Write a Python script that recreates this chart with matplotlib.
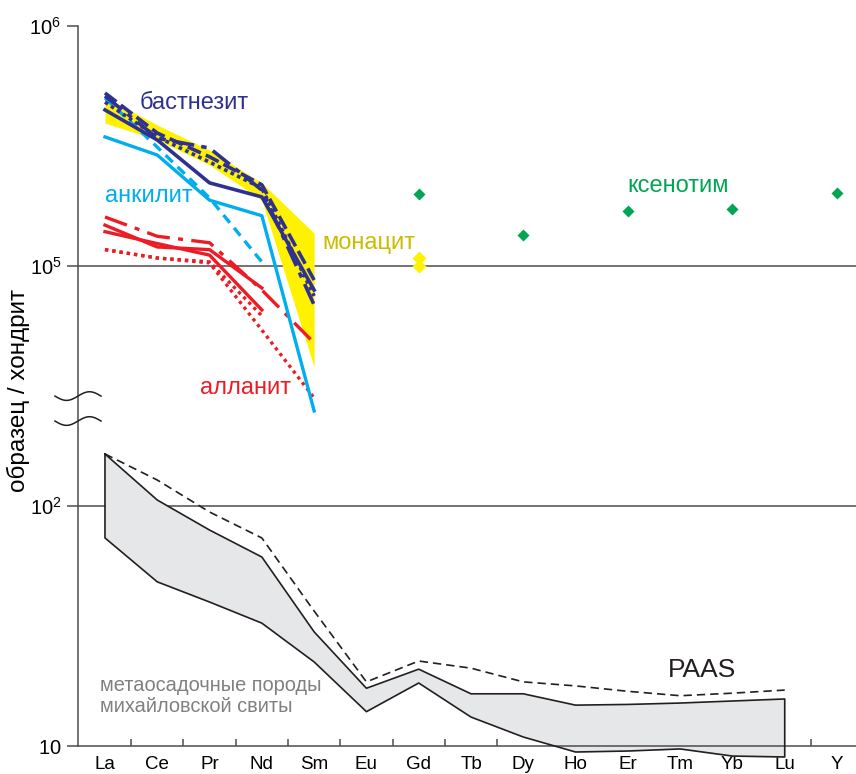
import numpy as np
import matplotlib
matplotlib.use('Agg')
import matplotlib.pyplot as plt

plt.rcParams['font.family'] = ['Liberation Sans', 'DejaVu Sans']
plt.rcParams['mathtext.fontset'] = 'custom'
plt.rcParams['mathtext.rm'] = 'Liberation Sans'

# ---------------- data (chondrite-normalised) ----------------
elements = ['La', 'Ce', 'Pr', 'Nd', 'Sm', 'Eu', 'Gd', 'Tb', 'Dy', 'Ho', 'Er', 'Tm', 'Yb', 'Lu', 'Y']

# bastnaesite, La..Sm
bast_solid   = [4.47e5, 3.35e5, 2.22e5, 1.94e5, 7.94e4]
bast_dashdot = [5.11e5, 3.41e5, 3.10e5, 2.07e5, 6.88e4]
bast_dotted  = [4.82e5, 3.45e5, 2.71e5, 2.11e5, 7.50e4]
bast_dashed  = [5.26e5, 3.58e5, 2.85e5, 2.18e5, 8.74e4]

# ancylite
ank_solid  = [3.45e5, 2.90e5, 1.88e5, 1.62e5, 2.49e4]
ank_dashed = [5.01e5, 3.13e5, 1.92e5, 1.04e5]

# allanite
all_dashdot = [1.60e5, 1.33e5, 1.25e5, 7.94e4, 4.78e4]
all_solid1  = [1.48e5, 1.20e5, 1.17e5, 8.10e4]
all_solid2  = [1.39e5, 1.24e5, 1.11e5, 6.56e4]
all_dotted1 = [1.17e5, 1.08e5, 1.03e5, 5.41e4, 2.82e4]
all_dotted2 = [1.17e5, 1.08e5, 1.04e5, 6.20e4]

# monazite field (upper / lower envelope) and Gd points
mon_upper = [5.06e5, 3.87e5, 3.04e5, 2.22e5, 1.37e5]
mon_lower = [3.94e5, 3.35e5, 2.64e5, 1.88e5, 3.79e4]
mon_gd = [1.08e5, 1.00e5]

# xenotime
xen_el  = ['Gd', 'Dy', 'Er', 'Yb', 'Y']
xen_val = [2.00e5, 1.35e5, 1.69e5, 1.73e5, 2.01e5]

# PAAS and metasediment field, La..Lu
paas      = [164.7, 128.3, 94.4, 73.6, 36.5, 18.5, 22.6, 21.1, 18.5, 17.8, 16.9, 16.2, 16.6, 17.1]
sed_upper = [164.7, 105.9, 79.4, 61.3, 29.9, 17.4, 20.9, 16.5, 16.5, 14.8, 14.9, 15.1, 15.4, 15.7]
sed_lower = [73.6, 48.3, 39.8, 32.5, 22.4, 13.9, 18.3, 13.2, 10.9, 9.44, 9.53, 9.72, 9.08, 9.0]


# broken log axis: 10..10^2 drawn as is, 10^5..10^6 shifted down by 3 decades
def lo(v):
    return np.log10(np.asarray(v, dtype=float))


def hi(v):
    return np.log10(np.asarray(v, dtype=float)) - 2


x = np.arange(len(elements))
xi = {e: i for i, e in enumerate(elements)}

NAVY = '#2e3192'
CYAN = '#00aeef'
RED = '#ed1c24'
YEL = '#fff200'
GREEN = '#00a651'

fig = plt.figure(figsize=(8.56, 7.74), dpi=100)
ax = fig.add_axes([78 / 856, 14 / 774, 778 / 856, 734 / 774])
ax.set_xlim(-0.516, 14.363)
ax.set_ylim(1 - 14 / 240, 4)

# reference lines
for yy in (2, 3):
    ax.axhline(yy, color='#4d4d4d', lw=1.1, zorder=1)

# metasediment field + PAAS
n = len(paas)
ax.fill_between(x[:n], lo(sed_lower), lo(sed_upper), color='#e6e7e8', lw=0, zorder=2)
ax.plot(np.r_[x[:n], x[:n][::-1], x[0]],
        np.r_[lo(sed_upper), lo(sed_lower)[::-1], lo(sed_upper)[0]],
        color='#231f20', lw=1.2, zorder=3)
ax.plot(x[:n], lo(paas), color='#231f20', lw=1.2, ls=(0, (5, 3)), zorder=3)

# monazite field
m = len(mon_upper)
ax.fill_between(x[:m], hi(mon_lower), hi(mon_upper), color=YEL, lw=0, zorder=2)
ax.plot([xi['Gd']] * 2, hi(mon_gd), 'D', color=YEL, ms=7, mec='none', zorder=4)

# allanite
ax.plot(x[:5], hi(all_dashdot), color=RED, lw=2.4, ls=(0, (7, 2.5, 1.5, 2.5)), zorder=4)
ax.plot(x[:4], hi(all_solid1), color=RED, lw=2.4, zorder=4)
ax.plot(x[:4], hi(all_solid2), color=RED, lw=2.4, zorder=4)
ax.plot(x[:5], hi(all_dotted1), color=RED, lw=2.4, ls=(0, (1, 1.2)), zorder=4)
ax.plot(x[:4], hi(all_dotted2), color=RED, lw=2.4, ls=(0, (1, 1.2)), zorder=4)

# ancylite
ax.plot(x[:5], hi(ank_solid), color=CYAN, lw=2.4, zorder=5)
ax.plot(x[:4], hi(ank_dashed), color=CYAN, lw=2.4, ls=(0, (3, 2)), zorder=5)

# bastnaesite
ax.plot(x[:5], hi(bast_solid), color=NAVY, lw=2.6, zorder=6)
ax.plot(x[:5], hi(bast_dashdot), color=NAVY, lw=2.6, ls=(0, (6, 2, 1.5, 2)), zorder=6)
ax.plot(x[:5], hi(bast_dotted), color=NAVY, lw=2.6, ls=(0, (1, 1)), zorder=6)
ax.plot(x[:5], hi(bast_dashed), color=NAVY, lw=2.6, ls=(0, (4, 1.5)), zorder=6)

# xenotime
ax.plot([xi[e] for e in xen_el], hi(xen_val), 'D', color=GREEN, ms=6.5, mec='none', zorder=6)

# labels
ax.text(0.67, 3.679, 'бастнезит', color=NAVY, fontsize=17, va='center')
ax.text(0.0, 3.29, 'анкилит', color=CYAN, fontsize=17, va='center')
ax.text(4.15, 3.096, 'монацит', color='#cdbb00', fontsize=17, va='center')
ax.text(1.82, 2.49, 'алланит', color=RED, fontsize=17, va='center')
ax.text(10.0, 3.333, 'ксенотим', color=GREEN, fontsize=17, va='center')
ax.text(10.77, 1.317, 'PAAS', color='#231f20', fontsize=19, va='center')
ax.text(-0.1, 1.208, 'метаосадочные породы\nмихайловской свиты', color='#808080',
        fontsize=14.4, va='center', linespacing=1.15)

# axes styling
for s in ('top', 'right'):
    ax.spines[s].set_visible(False)
ax.spines['bottom'].set_position(('data', 1))
ax.spines['left'].set_bounds(1, 4)
for s in ('left', 'bottom'):
    ax.spines[s].set_color('#4d4d4d')
    ax.spines[s].set_linewidth(1.1)

ax.set_xticks(x, elements)
ax.set_xticks(np.arange(0.5, 14, 1), minor=True)
ax.tick_params(axis='x', which='major', length=0, pad=7.5, labelsize=13.5)
ax.tick_params(axis='x', which='minor', direction='in', length=5, color='#4d4d4d', width=1.1)
ax.set_yticks([1, 2, 3, 4], ['$\\mathregular{10}$', '$\\mathregular{10^2}$',
                              '$\\mathregular{10^5}$', '$\\mathregular{10^6}$'])
ax.tick_params(axis='y', length=8, width=1.1, color='#4d4d4d', pad=4, labelsize=14.5)

# axis break mark
tb = np.linspace(-0.956, -0.076, 60)
for yb in (2.458, 2.354):
    ax.plot(tb, yb + 0.018 * np.sin((tb - tb[0]) / (tb[-1] - tb[0]) * 2 * np.pi + np.pi),
            color='#231f20', lw=1.1, clip_on=False, zorder=7)

fig.text(0.022, 1 - 390 / 774, 'образец / хондрит', rotation=90, fontsize=17.5,
         va='center', ha='center')

fig.savefig('out.png', dpi=100)
